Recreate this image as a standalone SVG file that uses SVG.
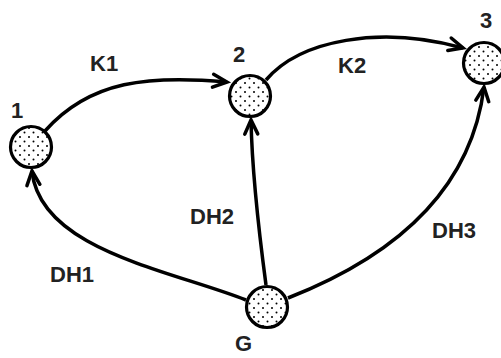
<svg xmlns="http://www.w3.org/2000/svg" width="501" height="358" viewBox="0 0 501 358">
  <style>
    .node { fill: url(#dots); stroke: #000; stroke-width: 3.2; }
    .edge { fill: none; stroke: #000; stroke-width: 3.5; marker-end: url(#arrow); }
    .label { font-family: "Liberation Sans", Arial, sans-serif; font-weight: bold; font-size: 22px; fill: #222; }
  </style>
  <defs>
    <pattern id="dots" patternUnits="userSpaceOnUse" width="9" height="9">
      <rect width="9" height="9" fill="#fff"/>
      <circle cx="2" cy="2" r="1" fill="#000"/>
      <circle cx="6.5" cy="6.5" r="1" fill="#000"/>
    </pattern>
    <marker id="arrow" markerUnits="userSpaceOnUse" markerWidth="20" markerHeight="20" refX="0" refY="0" viewBox="-16 -10 20 20" orient="auto" overflow="visible">
      <path d="M-14,-6.5 L0,0 L-14,6.5" fill="none" stroke="#000" stroke-width="3.5" stroke-linecap="round" stroke-linejoin="miter"/>
    </marker>
  </defs>

  <g id="edges">
    <path id="e-K1" class="edge" d="M45,131 C90,80 150,75 227,82"/>
    <path id="e-K2" class="edge" d="M266,80 C300,40 380,25 463,48"/>
    <path id="e-DH1" class="edge" d="M246,300 C170,270 40,250 32,171"/>
    <path id="e-DH2" class="edge" d="M266,285 C260,240 252,170 251,120"/>
    <path id="e-DH3" class="edge" d="M288,298 C380,262 470,200 484,87"/>
  </g>

  <g id="edge-labels">
    <text class="label" x="90" y="71">K1</text>
    <text class="label" x="338" y="73">K2</text>
    <text class="label" x="50" y="282">DH1</text>
    <text class="label" x="190" y="224">DH2</text>
    <text class="label" x="432" y="238">DH3</text>
  </g>

  <g id="node-1">
    <circle class="node" cx="31" cy="147" r="20.5"/>
    <text class="label" x="11" y="118">1</text>
  </g>
  <g id="node-2">
    <circle class="node" cx="250" cy="96" r="20.5"/>
    <text class="label" x="233" y="62">2</text>
  </g>
  <g id="node-3">
    <circle class="node" cx="484" cy="63" r="20.5"/>
    <text class="label" x="480" y="28">3</text>
  </g>
  <g id="node-G">
    <circle class="node" cx="267" cy="307" r="20.5"/>
    <text class="label" x="235" y="351">G</text>
  </g>
</svg>
